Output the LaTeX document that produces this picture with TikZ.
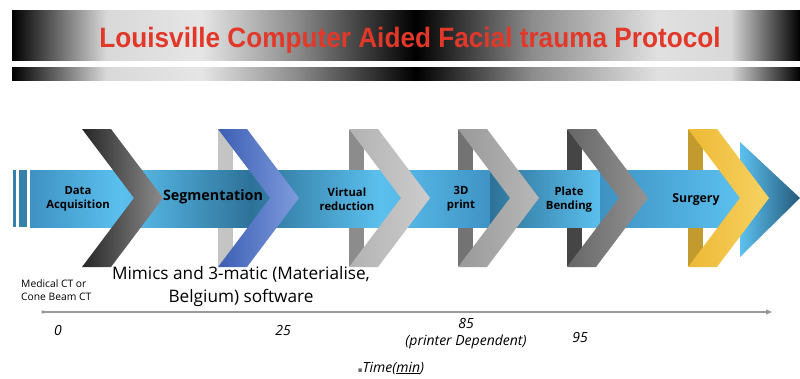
\documentclass[tikz,border=0pt]{standalone}
\usepackage{fontspec}
\setmainfont{Open Sans}
\newfontfamily\titlefont{Liberation Sans}
\newfontfamily\symfont{DejaVu Sans}
\usetikzlibrary{arrows.meta}
\definecolor{titlered}{HTML}{E2382A}
\definecolor{bandLight}{HTML}{5CC1EF}
\definecolor{bandMid}{HTML}{3E92C3}
\definecolor{bandDark}{HTML}{2D7198}
\definecolor{bandDeep}{HTML}{24597A}
\definecolor{blueDark}{HTML}{3D5FB3}
\definecolor{blueLight}{HTML}{7E9BDD}
\definecolor{goldDark}{HTML}{C29A2E}
\definecolor{goldA}{HTML}{EDB935}
\definecolor{goldB}{HTML}{F7D262}
\pgfdeclarehorizontalshading{chrome}{100bp}{color(0bp)=(black); color(25bp)=(black);
  color(31bp)=(black!15); color(37bp)=(black!10); color(43bp)=(black!45); color(50.6bp)=(black);
  color(58bp)=(black!45); color(66bp)=(black!12); color(70.6bp)=(black!15); color(75bp)=(black); color(100bp)=(black)}
\begin{document}
\begin{tikzpicture}[x=1pt, y=-1pt,
    steplabel/.style={font=\bfseries\fontsize{11.3}{14}\selectfont, align=center, inner sep=0pt},
    ticklabel/.style={font=\itshape\fontsize{14}{17}\selectfont, align=center, inner sep=0pt}]
    \useasboundingbox (0,0) rectangle (800,378);
    % title banner
    \shade[shading=chrome] (12,10) rectangle (800,60);
    \shade[shading=chrome] (12,67) rectangle (800,80);
    \node[font=\titlefont\bfseries\fontsize{28}{30}\selectfont, text=titlered, xscale=0.935] (title) at (410,40) {Louisville Computer Aided Facial trauma Protocol};
    % folded backs of the chevrons
    \foreach \x/\c in {218/black!23, 349/black!45, 458/black!55, 567/black!73, 688/goldDark}
        \fill[\c] (\x,130) rectangle ++(15,136);
    % main band
    \foreach \a/\b/\ca/\cb in {30/122/bandMid/bandLight, 120/252/bandLight/bandDark, 250/382/bandDark/bandLight,
        380/492/bandLight/bandMid, 490/602/bandDark/bandLight, 600/742/bandMid/bandLight}
        \shade[left color=\ca, right color=\cb] (\a,170) rectangle (\b,227);
    \foreach \a/\b in {12.5/16, 19/27} \fill[bandDark!80!bandLight] (\a,170) rectangle (\b,227);
    \shade[left color=bandLight, right color=bandDeep] (740,142) -- (800,198) -- (740,257) -- cycle;
    % chevrons
    \foreach \x/\ca/\cb in {82/black!85/black!45, 218/blueDark/blueLight, 349/black!30/black!20,
        458/black!40/black!28, 567/black!60/black!42, 688/goldA/goldB}
        \shade[left color=\ca, right color=\cb] (\x,129) -- ++(29,0) -- ++(52,69) -- ++(-52,69) -- ++(-29,0) -- ++(52,-69) -- cycle;
    % step labels
    \node[steplabel] (acq) at (78,199) {Data\\Acquisition};
    \node[steplabel, font=\bfseries\fontsize{14.3}{16}\selectfont] (seg) at (213,197) {Segmentation};
    \node[steplabel] (virt) at (347,199) {Virtual\\reduction};
    \node[steplabel] (print) at (461,199) {3D\\print};
    \node[steplabel] (bend) at (569,200) {Plate\\Bending};
    \node[steplabel, font=\bfseries\fontsize{12.3}{14}\selectfont] (surg) at (696,200) {Surgery};
    % time line
    \coordinate (t0) at (43,312);
    \coordinate (t1) at (772,312);
    \draw[black!40, line width=1.3pt, -{Triangle[length=6pt,width=5pt]}] (t0) -- (t1);
    \fill[black!40] (t0) circle (1.8pt);
    \node[font=\fontsize{10.3}{12.5}\selectfont, align=left, anchor=west, inner sep=0pt] (ct) at (21,290) {Medical CT or\\Cone Beam CT};
    \node[font=\fontsize{17.2}{23}\selectfont, align=center, inner sep=0pt] (soft) at (241,287) {Mimics and 3-matic (Materialise,\\Belgium) software};
    \node[ticklabel] (m0) at (58,330) {0};
    \node[ticklabel] (m25) at (283,330) {25};
    \node[ticklabel] (m85) at (466,334) {85\\(printer Dependent)};
    \node[ticklabel] (m95) at (580,337) {95};
    \node[ticklabel] (time) at (391,368) {{\symfont\fontsize{7}{7}\selectfont\textcolor{black!60}{▪}}Time(\underline{min})};
\end{tikzpicture}
\end{document}
